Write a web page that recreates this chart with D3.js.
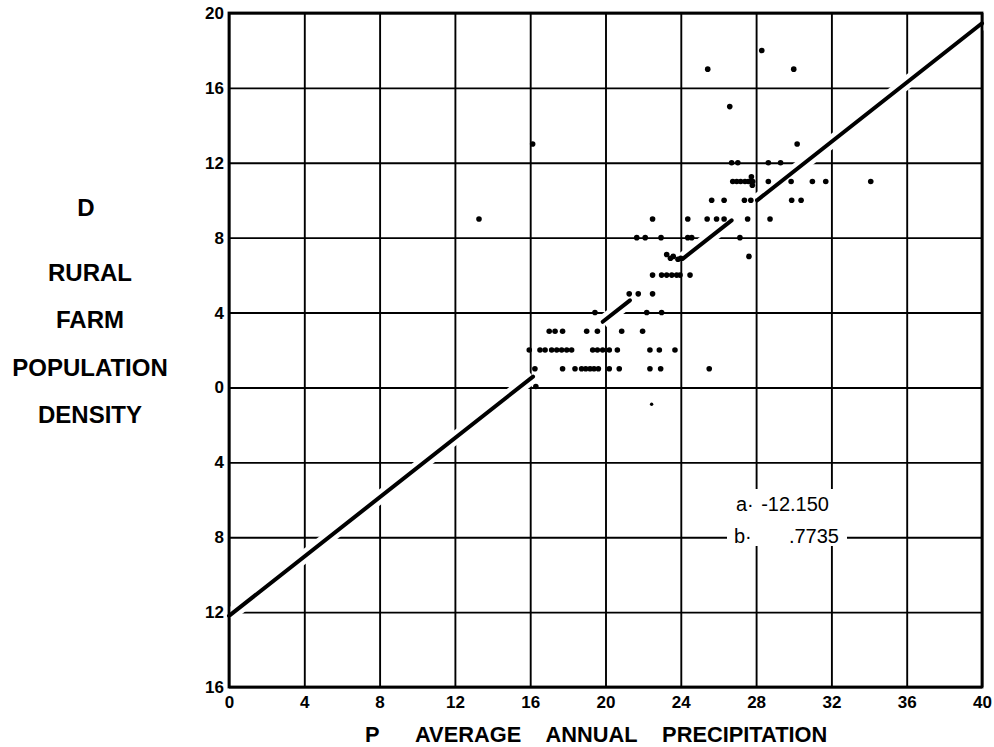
<!DOCTYPE html>
<html>
<head>
<meta charset="utf-8">
<script src="https://cdn.jsdelivr.net/npm/d3@7"></script>
<style>
    body { margin: 0; background: #fff; }
    svg { display: block; }
</style>
</head>
<body>
<script>
// observations, one line per density row
const precip = [
    28.3,
    25.43, 30.0,
    26.6,
    16.13, 30.18,
    26.7, 27.03, 28.65, 29.3,
    26.76, 26.97, 27.18, 27.41, 27.59, 27.71, 27.82, 27.75, 27.8, 28.65, 29.86, 30.99, 31.7, 34.09,
    25.64, 26.3, 27.38, 27.72, 29.89, 30.39,
    13.28, 22.5, 24.37, 25.4, 25.9, 26.3, 27.55, 28.74,
    21.66, 22.11, 22.95, 24.37, 24.58, 27.14,
    23.25, 23.45, 23.6, 23.85, 24.0, 27.62,
    22.5, 22.98, 23.25, 23.52, 23.78, 23.96, 24.49,
    21.26, 21.74, 22.5,
    19.44, 22.19, 22.98,
    17.01, 17.32, 17.72, 19.0, 19.57, 20.86, 21.97,
    15.95, 16.52, 16.79, 17.14, 17.41, 17.67, 17.94, 18.2, 19.32, 19.57, 19.85, 20.2, 20.63, 22.36, 22.86, 23.69,
    16.25, 17.72, 18.38, 18.73, 18.95, 19.18, 19.39, 19.62, 20.2, 20.73, 22.36, 22.93, 25.51,
    16.3, 22.45
]
const density = [
    18,
    17, 17,
    15,
    13, 13,
    12, 12, 12, 12,
    11, 11, 11, 11, 11, 11, 11, 11.25, 10.8, 11, 11, 11, 11, 11,
    10, 10, 10, 10, 10, 10,
    9, 9, 9, 9, 9, 9, 9, 9,
    8, 8, 8, 8, 8, 8,
    7.1, 6.9, 7.0, 6.85, 6.9, 7,
    6, 6, 6, 6, 6, 6, 6,
    5, 5, 5,
    4, 4, 4,
    3, 3, 3, 3, 3, 3, 3,
    2, 2, 2, 2, 2, 2, 2, 2, 2, 2, 2, 2, 2, 2, 2, 2,
    1, 1, 1, 1, 1, 1, 1, 1, 1, 1, 1, 1, 1,
    0.05, -0.9
]

// fitted line as drawn, and the stretches where it was left open
const fitP = [0, 40]
const fitD = [-12.2, 19.45]
const fitGaps = [[16.15, 19.85], [21.3, 24.1], [26.7, 28.05]]

const xTicks = [0, 4, 8, 12, 16, 20, 24, 28, 32, 36, 40]
const yTicks = [-16, -12, -8, -4, 0, 4, 8, 12, 16, 20]
const yTitle = ['D', 'RURAL', 'FARM', 'POPULATION', 'DENSITY']
const xTitle = ['P', 'AVERAGE ANNUAL PRECIPITATION']
const coefNames = ['a\u00b7', 'b\u00b7']
const coefValues = ['-12.150', '.7735']

const chart = {
    width: 994,
    height: 747,
    plot: { left: 229, right: 982, top: 13, bottom: 687 },
    scale: { x: null, y: null },
    init() {
        this.scale.x = d3.scaleLinear().domain([0, 40]).range([this.plot.left, this.plot.right])
        this.scale.y = d3.scaleLinear().domain([-16, 20]).range([this.plot.bottom, this.plot.top])
    },
    draw(body) {
        this.init()
        const svg = d3.select(body)
            .append('svg')
            .attr('width', this.width)
            .attr('height', this.height)
            .attr('xmlns', 'http://www.w3.org/2000/svg')

        this.drawGrid(svg)
        this.drawFit(svg)
        this.drawCoefficients(svg)
        this.drawFrame(svg)
        this.drawDots(svg)
        this.drawTitles(svg)
    },
    drawGrid(svg) {
        const { x, y } = this.scale
        const p = this.plot

        const gx = svg.append('g')
            .attr('transform', `translate(0,${p.bottom})`)
            .call(d3.axisBottom(x).tickValues(xTicks).tickSizeInner(-(p.bottom - p.top)).tickSizeOuter(0).tickPadding(9))
        const gy = svg.append('g')
            .attr('transform', `translate(${p.left},0)`)
            .call(d3.axisLeft(y).tickValues(yTicks).tickFormat(d => Math.abs(d)).tickSizeInner(-(p.right - p.left)).tickSizeOuter(0).tickPadding(5))

        for (const g of [gx, gy]) {
            g.select('.domain').remove()
            g.selectAll('.tick line').attr('stroke', '#000').attr('stroke-width', 1.9)
            g.selectAll('.tick text')
                .attr('fill', '#000')
                .style('font-family', '"Liberation Sans", Arial, sans-serif')
                .style('font-weight', 'bold')
                .style('font-size', '17px')
        }
    },
    fitSegments() {
        const at = d3.scaleLinear().domain(fitP).range(fitD)
        const cuts = [fitP[0]]
        fitGaps.forEach(g => cuts.push(g[0], g[1]))
        cuts.push(fitP[1])
        const segs = []
        for (let i = 0; i < cuts.length; i += 2) {
            segs.push([[cuts[i], at(cuts[i])], [cuts[i + 1], at(cuts[i + 1])]])
        }
        return segs
    },
    drawFit(svg) {
        const line = d3.line().x(d => this.scale.x(d[0])).y(d => this.scale.y(d[1]))
        const segs = this.fitSegments()

        // the drafter broke the grid around the line
        svg.append('g').selectAll('path')
            .data(segs)
            .enter()
            .append('path')
            .attr('d', line)
            .attr('fill', 'none')
            .attr('stroke', '#fff')
            .attr('stroke-width', 13)
            .attr('stroke-linecap', 'butt')

        this.fitLayer = svg.append('g')
        this.fitLayer.selectAll('path')
            .data(segs)
            .enter()
            .append('path')
            .attr('d', line)
            .attr('fill', 'none')
            .attr('stroke', '#000')
            .attr('stroke-width', 4)
            .attr('stroke-linecap', 'round')
    },
    drawCoefficients(svg) {
        svg.append('rect')
            .attr('x', 727)
            .attr('y', 489)
            .attr('width', 120)
            .attr('height', 57)
            .attr('fill', '#fff')

        const g = svg.append('g')
            .style('font-family', '"Liberation Sans", Arial, sans-serif')
            .style('font-size', '20px')
            .attr('fill', '#000')

        g.selectAll('text.name')
            .data(coefNames)
            .enter()
            .append('text')
            .attr('class', 'name')
            .attr('x', (d, i) => i ? 734 : 736)
            .attr('y', (d, i) => 511 + i * 32)
            .text(d => d)

        g.selectAll('text.value')
            .data(coefValues)
            .enter()
            .append('text')
            .attr('class', 'value')
            .attr('x', (d, i) => i ? 839 : 829)
            .attr('y', (d, i) => 511 + i * 32)
            .attr('text-anchor', 'end')
            .text(d => d)
    },
    drawFrame(svg) {
        const p = this.plot
        svg.append('rect')
            .attr('x', p.left)
            .attr('y', p.top)
            .attr('width', p.right - p.left)
            .attr('height', p.bottom - p.top)
            .attr('fill', 'none')
            .attr('stroke', '#000')
            .attr('stroke-width', 2.8)
        this.fitLayer.raise()
    },
    drawDots(svg) {
        svg.append('g').selectAll('circle')
            .data(precip.map((p, i) => ({ p, d: density[i] })))
            .enter()
            .append('circle')
            .attr('r', d => d.d < 0 ? 1.7 : 2.8)
            .attr('cx', d => this.scale.x(d.p))
            .attr('cy', d => this.scale.y(d.d))
            .style('fill', '#000')
    },
    drawTitles(svg) {
        const font = '"Liberation Sans", Arial, sans-serif'
        svg.append('g').selectAll('text')
            .data(yTitle)
            .enter()
            .append('text')
            .attr('x', (d, i) => i ? 90 : 86)
            .attr('y', (d, i) => [216, 281, 328, 376, 423][i])
            .attr('text-anchor', 'middle')
            .style('font-family', font)
            .style('font-weight', 'bold')
            .style('font-size', '24px')
            .text(d => d)

        svg.append('g').selectAll('text')
            .data(xTitle)
            .enter()
            .append('text')
            .attr('x', (d, i) => i ? 415 : 365)
            .attr('y', 742)
            .style('font-family', font)
            .style('font-weight', 'bold')
            .style('font-size', '21.8px')
            .style('word-spacing', '19px')
            .text(d => d)
    }
}

chart.draw(document.body)
</script>
</body>
</html>
